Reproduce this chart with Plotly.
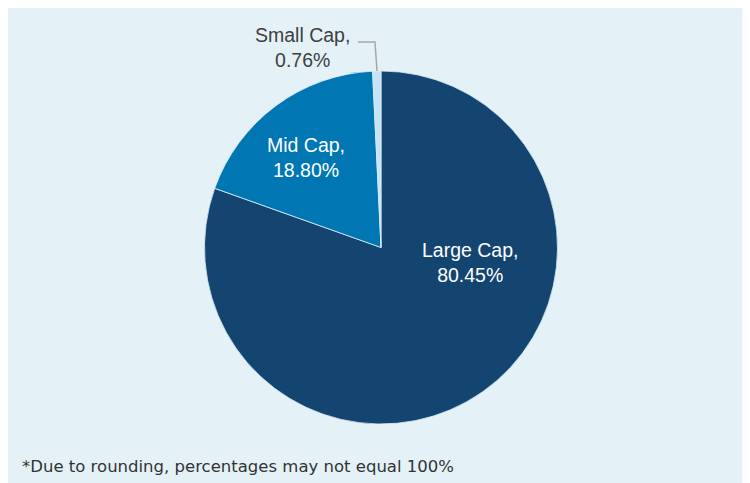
import plotly.graph_objects as go

categories = ["Large Cap", "Mid Cap", "Small Cap"]
values = [80.45, 18.80, 0.76]
colors = ["#144470", "#0077b3", "#c6e4f5"]
footnote = "*Due to rounding, percentages may not equal 100%"

# page is offset by the 8px body margin of the browser
OFF = 8
W, H = 750 - OFF, 483 - OFF


def px(x):
    return (x - OFF) / W


def py(y):
    return (483 - y) / H


fig = go.Figure(go.Pie(
    labels=categories,
    values=values,
    sort=False,
    direction="clockwise",
    rotation=0,
    marker=dict(colors=colors, line=dict(color="#dbeef7", width=0.8)),
    textinfo="none",
    hoverinfo="label+percent",
    showlegend=False,
    domain=dict(x=[px(204), px(558)], y=[py(424), py(71)]),
))

label_pos = {"Large Cap": (470, 262, "white"),
             "Mid Cap": (306, 157, "white"),
             "Small Cap": (302, 47, "#404040")}
annotations = []
for c, v in zip(categories, values):
    x, y, col = label_pos[c]
    annotations.append(dict(
        x=px(x), y=py(y), xref="paper", yref="paper",
        text=f"{c},<br>{v:.2f}%", showarrow=False,
        font=dict(family="Liberation Sans, Arial", size=19.5, color=col),
        align="center", xanchor="center", yanchor="middle",
    ))
annotations.append(dict(
    x=px(19.5), y=py(466), xref="paper", yref="paper", text=footnote,
    showarrow=False, xanchor="left", yanchor="middle",
    font=dict(family="DejaVu Sans", size=16.5, color="#333333"),
))

shapes = [
    dict(type="path", xref="paper", yref="paper",
         path=f"M {px(358)},{py(42)} L {px(375)},{py(42)} L {px(377)},{py(71)}",
         line=dict(color="#a6a6a6", width=1.5)),
]

fig.update_layout(
    width=W, height=H,
    margin=dict(l=0, r=0, t=0, b=0),
    paper_bgcolor="#e4f2f8",
    annotations=annotations,
    shapes=shapes,
)

fig.write_html("out.html")
